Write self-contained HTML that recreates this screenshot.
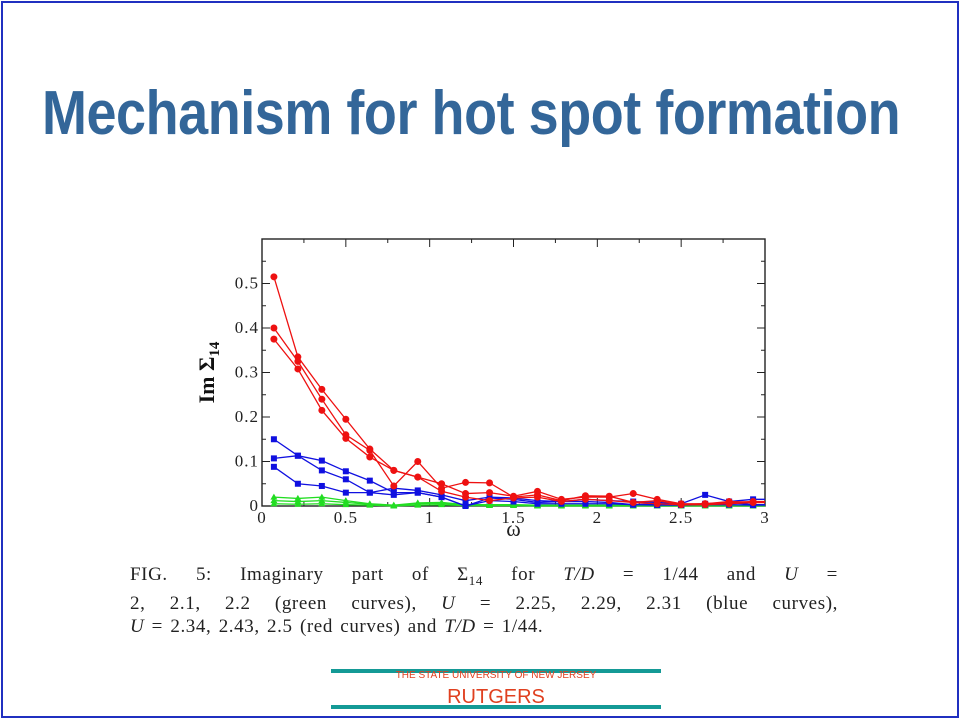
<!DOCTYPE html>
<html><head><meta charset="utf-8"><style>
body{margin:0;width:960px;height:720px;background:#fff;position:relative;overflow:hidden;font-family:"Liberation Sans",sans-serif}
#frame{position:absolute;left:1px;top:1px;width:954px;height:713px;border:2px solid #2030c0}
#title{position:absolute;left:42px;top:78px;font-size:62px;font-weight:bold;color:#336699;white-space:nowrap;transform:scaleX(0.87);transform-origin:left top;letter-spacing:-0.5px}
#cap{position:absolute;left:130px;top:563px;font-family:"Liberation Serif",serif;font-size:19px;line-height:23px;color:#222;width:708px;letter-spacing:0.6px;word-spacing:2px}
#cap div{text-align:justify;text-align-last:justify;white-space:nowrap}
#cap div.last{text-align-last:left}
.tl{position:absolute;left:331px;width:330px;height:4px;background:#149a96}
</style></head><body>
<div id="frame"></div>
<div id="title">Mechanism for hot spot formation</div>
<svg id="chart" width="960" height="720" style="position:absolute;left:0;top:0"></svg>
<div id="cap">
<div>FIG. 5: Imaginary part of Σ<sub style="font-size:13px">14</sub> for <i>T/D</i> = 1/44 and <i>U</i> =</div>
<div>2, 2.1, 2.2 (green curves), <i>U</i> = 2.25, 2.29, 2.31 (blue curves),</div>
<div class="last"><i>U</i> = 2.34, 2.43, 2.5 (red curves) and <i>T/D</i> = 1/44.</div>
</div>
<div class="tl" style="top:669px"></div>
<div class="tl" style="top:705px"></div>
<div style="position:absolute;left:331px;width:330px;top:670px;text-align:center;font-size:10px;color:#e04020">THE STATE UNIVERSITY OF NEW JERSEY</div>
<div style="position:absolute;left:331px;width:330px;top:686px;text-align:center;font-size:20px;color:#e04020">RUTGERS</div>
<script>
const xTicks=[0,0.5,1,1.5,2,2.5,3];
const xTickLabels=["0","0.5","1","1.5","2","2.5","3"];
const yTicks=[0,0.1,0.2,0.3,0.4,0.5];
const yTickLabels=["0","0.1","0.2","0.3","0.4","0.5"];
const omega=[0.071,0.214,0.357,0.5,0.643,0.786,0.929,1.071,1.214,1.357,1.5,1.643,1.786,1.929,2.071,2.214,2.357,2.5,2.643,2.786,2.929];
const red1=[0.515,0.335,0.262,0.195,0.128,0.08,0.065,0.05,0.028,0.03,0.022,0.033,0.015,0.02,0.02,0.028,0.015,0.005,0.005,0.008,0.01];
const red2=[0.40,0.325,0.24,0.16,0.125,0.045,0.10,0.04,0.053,0.052,0.02,0.025,0.012,0.023,0.022,0.008,0.012,0.003,0.005,0.01,0.008];
const red3=[0.375,0.308,0.215,0.152,0.11,0.08,0.065,0.033,0.02,0.012,0.018,0.02,0.01,0.015,0.012,0.008,0.005,0.003,0.003,0.005,0.008];
const blue1=[0.15,0.113,0.08,0.06,0.03,0.04,0.035,0.025,0.012,0.02,0.018,0.012,0.01,0.015,0.012,0.01,0.008,0.005,0.025,0.01,0.015];
const blue2=[0.107,0.113,0.102,0.078,0.057,0.03,0.03,0.02,0.0,0.018,0.015,0.008,0.01,0.01,0.008,0.003,0.005,0.003,0.005,0.008,0.003];
const blue3=[0.088,0.05,0.045,0.03,0.03,0.025,0.03,0.02,0.0,0.012,0.01,0.005,0.005,0.005,0.005,0.003,0.002,0.002,0.003,0.003,0.002];
const green1=[0.02,0.017,0.02,0.012,0.005,0.002,0.007,0.008,0.003,0.003,0.003,0.002,0.002,0.002,0.002,0.002,0.001,0.001,0.001,0.001,0.001];
const green2=[0.012,0.01,0.012,0.008,0.004,0.001,0.005,0.006,0.002,0.002,0.002,0.001,0.001,0.001,0.001,0.001,0.001,0.001,0.001,0.001,0.001];
const green3=[0.005,0.004,0.005,0.003,0.002,0.0,0.002,0.003,0.001,0.001,0.001,0.0,0.0,0.0,0.0,0.0,0.0,0.0,0.0,0.0,0.0];
const L=262,R=765,T=239,B=506,XMAX=3,YMAX=0.6;
const X=v=>L+(R-L)*v/XMAX, Y=v=>B-(B-T)*v/YMAX;
const svg=document.getElementById('chart'),NS='http://www.w3.org/2000/svg';
function mk(t,a,p){const e=document.createElementNS(NS,t);for(const k in a)e.setAttribute(k,a[k]);(p||svg).appendChild(e);return e;}
const fr=mk('rect',{x:L,y:T,width:R-L,height:B-T,fill:'none',stroke:'#222','stroke-width':1.4});


xTicks.forEach((v,i)=>{
  mk('line',{x1:X(v),x2:X(v),y1:B,y2:B-8,stroke:'#222'});mk('line',{x1:X(v),x2:X(v),y1:T,y2:T+8,stroke:'#222'});
  const t=mk('text',{x:X(v),y:B+17,'text-anchor':'middle','font-family':'Liberation Serif,serif','font-size':17,'letter-spacing':1,fill:'#222'});t.textContent=xTickLabels[i];
  
  
  if(i<xTicks.length-1){const m=v+0.25;mk('line',{x1:X(m),x2:X(m),y1:B,y2:B-4,stroke:'#222'});mk('line',{x1:X(m),x2:X(m),y1:T,y2:T+4,stroke:'#222'});}
});
yTicks.forEach((v,i)=>{
  mk('line',{x1:L,x2:L+8,y1:Y(v),y2:Y(v),stroke:'#222'});mk('line',{x1:R,x2:R-8,y1:Y(v),y2:Y(v),stroke:'#222'});
  const m=v+0.05;mk('line',{x1:L,x2:L+4,y1:Y(m),y2:Y(m),stroke:'#222'});mk('line',{x1:R,x2:R-4,y1:Y(m),y2:Y(m),stroke:'#222'});
  const t=mk('text',{x:L-3,y:Y(v)+5,'text-anchor':'end','font-family':'Liberation Serif,serif','font-size':17,'letter-spacing':1,fill:'#222'});t.textContent=yTickLabels[i];
  
  
});
const xl=mk('text',{x:(L+R)/2,y:B+30,'text-anchor':'middle','font-family':'Liberation Serif,serif','font-size':22,fill:'#222'});xl.textContent='ω';


const yl=mk('text',{x:0,y:0,transform:'translate(214,'+((T+B)/2)+') rotate(-90)','text-anchor':'middle','font-family':'Liberation Serif,serif','font-size':22,'font-weight':'bold',fill:'#111'});
yl.innerHTML='Im Σ<tspan font-size="15" dy="5">14</tspan>';


const series=[[green1,'#22dd22','tri'],[green2,'#22dd22','tri'],[green3,'#22dd22','tri'],[blue1,'#1010e0','sq'],[blue2,'#1010e0','sq'],[blue3,'#1010e0','sq'],[red1,'#ee1111','c'],[red2,'#ee1111','c'],[red3,'#ee1111','c']];
series.forEach((s,si)=>{
  const g=mk('g',{});
  
  
  mk('polyline',{points:s[0].map((v,i)=>X(omega[i])+','+Y(v)).join(' ')+' '+X(3)+','+Y(s[0][s[0].length-1]),fill:'none',stroke:s[1],'stroke-width':1.3},g);
  s[0].forEach((v,i)=>{
    const x=X(omega[i]),y=Y(v);
    if(s[2]=='c')mk('circle',{cx:x,cy:y,r:3.5,fill:s[1]},g);
    else if(s[2]=='sq')mk('rect',{x:x-3,y:y-3,width:6,height:6,fill:s[1]},g);
    else mk('polygon',{points:`${x},${y-3.5} ${x-3.5},${y+2.5} ${x+3.5},${y+2.5}`,fill:s[1]},g);
  });
});
</script>
</body></html>
